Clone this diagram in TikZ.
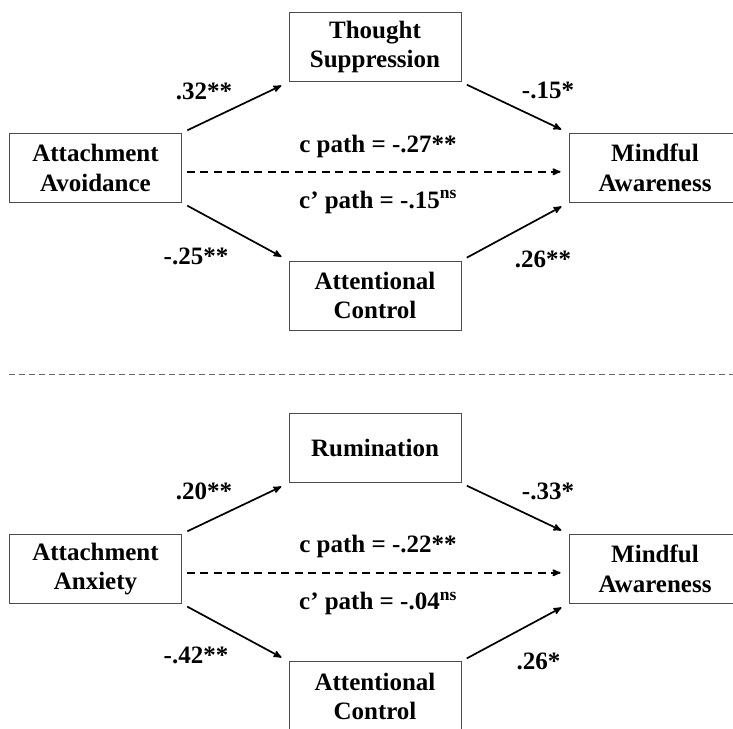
\documentclass[tikz,border=0pt]{standalone}
\usepackage{fontspec}
\setmainfont{Liberation Serif}
\usetikzlibrary{arrows}

\begin{document}
\begin{tikzpicture}[->,>=stealth'
	,x=1pt,y=-1pt
	,line width=1.7pt
	,font=\fontsize{25}{29.4}\selectfont\bfseries]
  \tikzstyle{var}
  =[draw=black!70,line width=0.9pt,minimum width=172pt,minimum height=69pt
  ,align=center,inner sep=0pt]
  \tikzstyle{med}=[shorten <=6pt,shorten >=8pt]
  \tikzstyle{direct}=[dash pattern=on 8pt off 5.5pt,shorten <=5pt,shorten >=8pt]

  \clip (0,0) rectangle (733,728);

  % avoidance model
  \node[var](aav) at (95.5,167.8) {Attachment\\Avoidance};
  \node[var](ts)  at (375,47.2)   {Thought\\Suppression};
  \node[var](ma1) at (655,167.8)  {Mindful\\Awareness};
  \node[var](ac1) at (375,295.5)  {Attentional\\Control};
  \node(aavts) at (204,91.7)  {.32**};
  \node(tsma)  at (548,90)    {-.15*};
  \node(aavac) at (196,256)   {-.25**};
  \node(acma1) at (543,259)   {.26**};
  \node(c1)    at (378,146)   {c path = -.27**};
  \node(cp1)   at (378,202)   {c’ path = -.15\textsuperscript{ns}};
  \path [med   ] (aav.north east) edge (ts.south west);
  \path [med   ] (ts.south east)  edge (ma1.north west);
  \path [med   ] (aav.south east) edge (ac1.north west);
  \path [med   ] (ac1.north east) edge (ma1.south west);
  \path [direct] ([yshift=-4pt]aav.east) edge ([yshift=-4pt]ma1.west);

  % separator
  \draw [-,draw=black!60,line width=1.2pt,dash pattern=on 6pt off 4pt]
    (9,374.7) -- (733,374.7);

  % anxiety model
  \node[var](aax) at (95.5,568.8) {Attachment\\Anxiety};
  \node[var](rum) at (375,448.2)  {Rumination};
  \node[var](ma2) at (655,568.8)  {Mindful\\Awareness};
  \node[var](ac2) at (375,696.2)  {Attentional\\Control};
  \node(aaxrum) at (204,491.7)  {.20**};
  \node(rumma)  at (548,491.7)  {-.33*};
  \node(aaxac)  at (196,655)    {-.42**};
  \node(acma2)  at (538.6,661.7) {.26*};
  \node(c2)     at (378,546.7)  {c path = -.22**};
  \node(cp2)    at (378,603.3)  {c’ path = -.04\textsuperscript{ns}};
  \path [med   ] (aax.north east) edge (rum.south west);
  \path [med   ] (rum.south east) edge (ma2.north west);
  \path [med   ] (aax.south east) edge (ac2.north west);
  \path [med   ] (ac2.north east) edge (ma2.south west);
  \path [direct] ([yshift=-4pt]aax.east) edge ([yshift=-4pt]ma2.west);
\end{tikzpicture}
\end{document}
